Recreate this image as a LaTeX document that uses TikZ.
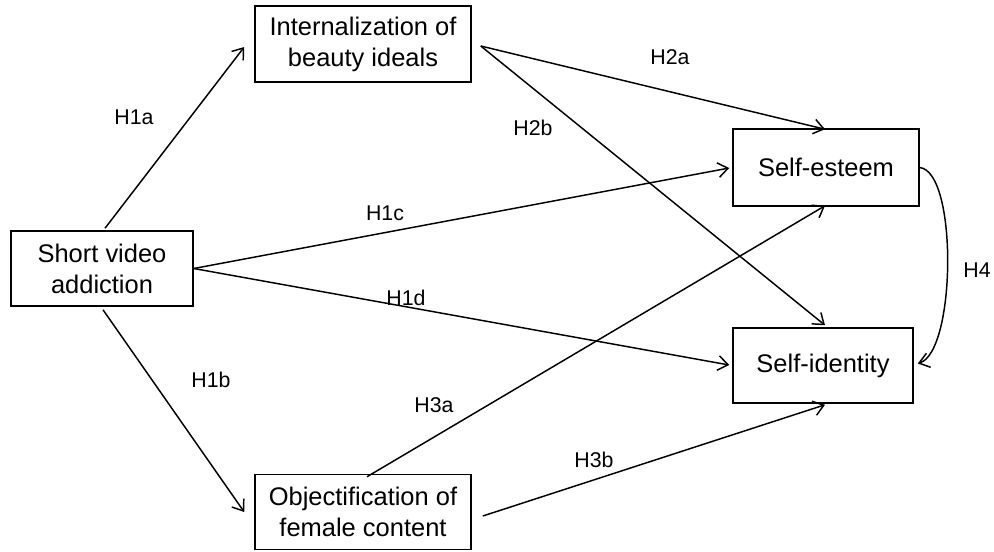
\documentclass[tikz,border=0pt]{standalone}
\usepackage{fontspec}
\setmainfont{Liberation Sans}
\usetikzlibrary{arrows.meta,calc}
\begin{document}
\begin{tikzpicture}[x=0.75pt,y=-0.75pt,
  box/.style={draw,line width=1.15pt,align=center,font=\fontsize{19.1}{23.3}\selectfont,inner sep=0pt},
  lbl/.style={font=\fontsize{16}{19}\selectfont,inner sep=0pt},
  conn/.style={line width=1.1pt,-{Straight Barb[length=7.5pt,width=11pt,line width=1.1pt]}}]
\useasboundingbox (0,0) rectangle (994,551);
\fill[white] (0,0) rectangle (994,551);
\node[box,minimum width=162pt,minimum height=57pt] (int) at (363,44) {Internalization of\\beauty ideals};
\node[box,minimum width=162pt,minimum height=56.25pt] (obj) at (363,512) {Objectification of\\female content};
\node[box,minimum width=136.5pt,minimum height=56.25pt] (sv) at (102,268.5) {Short video\\addiction};
\node[box,minimum width=139.5pt,minimum height=57.75pt] (se) at (826,167.5) {Self-esteem};
\node[box,minimum width=135pt,minimum height=56.25pt] (si) at (823,365.5) {Self-identity};
\draw[conn] ($(sv.north)+(3,-2)$) -- ($(int.west)+(-10,3)$);
\draw[conn] ($(sv.south)+(1,3)$) -- ($(obj.west)+(-10,0)$);
\draw[conn] (sv.east) -- ($(se.west)+(-3,0.5)$);
\draw[conn] (sv.east) -- ($(si.west)+(-3,-0.5)$);
\draw[conn] ($(int.east)+(9,2)$) -- ($(se.north)+(-1,1)$);
\draw[conn] ($(int.east)+(9,2)$) -- ($(si.north)+(2,-2)$);
\draw[conn] ($(obj.north)+(4,3)$) -- ($(se.south)+(-1,-1)$);
\draw[conn] ($(obj.east)+(11,4)$) -- ($(si.south)+(2,1)$);
\draw[conn] (se.east) .. controls (958,172) and (956,352) .. ($(si.east)+(4,-2)$);
\node[lbl] (l1a) at (134,117) {H1a};
\node[lbl] (l1b) at (211,380) {H1b};
\node[lbl] (l1c) at (385,213) {H1c};
\node[lbl] (l1d) at (406,298) {H1d};
\node[lbl] (l2a) at (670,57) {H2a};
\node[lbl] (l2b) at (533,128) {H2b};
\node[lbl] (l3a) at (434,405) {H3a};
\node[lbl] (l3b) at (594,460) {H3b};
\node[lbl] (l4) at (977,270) {H4};
\end{tikzpicture}
\end{document}
